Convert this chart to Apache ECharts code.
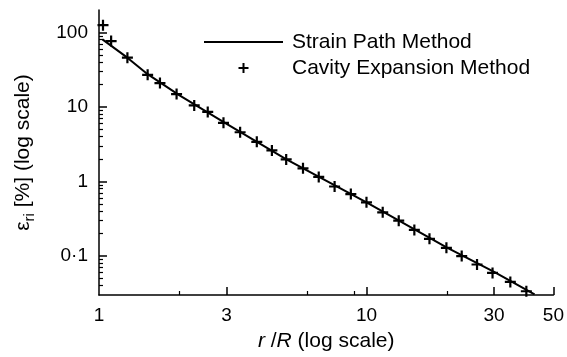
<!DOCTYPE html>
<html><head><meta charset="utf-8">
<script src="https://cdn.jsdelivr.net/npm/echarts@6/dist/echarts.min.js"></script>
<style>html,body{margin:0;padding:0;background:#fff}#c{width:567px;height:357px}</style>
</head><body><div id="c"></div>
<script>
// Strain Path Method (solid line)
const lineX = [1.03, 1.28, 1.5, 2, 3, 5, 10, 20, 30, 42.5];
const lineY = [80.7, 45.5, 28.5, 14.3, 5.95, 2.0, 0.525, 0.13, 0.0615, 0.0305];
// Cavity Expansion Method (+ markers)
const markX = [1.035, 1.11, 1.277, 1.52, 1.69, 1.95, 2.27, 2.55, 2.92, 3.37, 3.89, 4.43, 5.01, 5.79, 6.63, 7.6, 8.74, 10.0, 11.5, 13.2, 15.1, 17.2, 19.9, 22.7, 25.9, 29.6, 34.5, 39.6];
const markY = [125, 76.5, 45.8, 27, 20.9, 14.9, 10.5, 8.58, 6.12, 4.58, 3.41, 2.61, 1.98, 1.50, 1.15, 0.857, 0.678, 0.525, 0.386, 0.298, 0.224, 0.170, 0.129, 0.100, 0.077, 0.0593, 0.045, 0.0337];
// ticks
const xLabelValues = [1, 3, 10, 30, 50];
const xLabelTexts = ['1', '3', '10', '30', '50'];
const xMajorTicks = [3, 10, 30, 50];
const xMinorTicks = [2, 6, 9, 20];
const yLabelValues = [0.1, 1, 10, 100];
const yLabelTexts = ['0·1', '1', '10', '100'];
const yMajorTicks = [0.1, 1, 10, 100];
const yMinorTicks = [0.04,0.05,0.06,0.07,0.08,0.09,0.2,0.3,0.4,0.5,0.6,0.7,0.8,0.9,2,3,4,5,6,7,8,9,20,30,40,50,60,70,80,90];
const seriesNames = ['Strain Path Method', 'Cavity Expansion Method'];

const FONT = 'Liberation Sans, Arial, Helvetica, sans-serif';
function lookup(vals, texts) {
  return function (v) {
    for (let i = 0; i < vals.length; i++) if (Math.abs(v - vals[i]) < 1e-6 * vals[i]) return texts[i];
    return '';
  };
}
const X_MIN = 1, X_MAX = 50, Y_MIN = 0.03, Y_MAX = 200;
const chart = echarts.init(document.getElementById('c'), null, {renderer: 'canvas'});
const axisLine = {show: true, lineStyle: {color: '#000', width: 1.5}};
chart.setOption({
  animation: false,
  backgroundColor: '#fff',
  textStyle: {fontFamily: FONT},
  grid: {left: 99, right: 12, top: 10, bottom: 60.5, containLabel: false},
  legend: {
    orient: 'vertical', left: 203, top: 31, padding: 0,
    itemWidth: 79, itemHeight: 10, itemGap: 4,
    textStyle: {fontSize: 21, color: '#000', fontFamily: FONT, lineHeight: 22, padding: [0, 0, 0, 4]},
    data: [
      {name: seriesNames[0], itemStyle: {opacity: 0, color: 'rgba(0,0,0,0)', borderWidth: 0}},
      {name: seriesNames[1], itemStyle: {opacity: 1, color: '#000'}}
    ]
  },
  xAxis: [{
    type: 'log', min: X_MIN, max: X_MAX, position: 'bottom',
    axisLine: axisLine,
    axisTick: {show: true, inside: true, length: 8, lineStyle: {color: '#000', width: 1.5}, customValues: xMajorTicks},
    axisLabel: {show: true, margin: 11, fontSize: 19, color: '#000', fontFamily: FONT, customValues: xLabelValues, formatter: lookup(xLabelValues, xLabelTexts)},
    splitLine: {show: false}, minorTick: {show: false}, minorSplitLine: {show: false},
    name: '{i|r} /{i|R} (log scale)', nameLocation: 'middle', nameGap: 36,
    nameTextStyle: {fontSize: 21, color: '#000', fontFamily: FONT, rich: {i: {fontStyle: 'italic', fontSize: 21, fontFamily: FONT, color: '#000'}}}
  }, {
    type: 'log', min: X_MIN, max: X_MAX, position: 'bottom',
    axisLine: {show: false},
    axisTick: {show: true, inside: true, length: 4, lineStyle: {color: '#000', width: 1.2}, customValues: xMinorTicks},
    axisLabel: {show: false}, splitLine: {show: false}
  }],
  yAxis: [{
    type: 'log', min: Y_MIN, max: Y_MAX, position: 'left',
    axisLine: axisLine,
    axisTick: {show: true, inside: true, length: 8, lineStyle: {color: '#000', width: 1.5}, customValues: yMajorTicks},
    axisLabel: {show: true, margin: 11, fontSize: 19, color: '#000', fontFamily: FONT, customValues: yLabelValues, formatter: lookup(yLabelValues, yLabelTexts)},
    splitLine: {show: false}, minorTick: {show: false},
    name: '{e|ε}{s|ri}{n| [%] (log scale)}', nameLocation: 'middle', nameRotate: 90, nameGap: 62,
    nameTextStyle: {fontSize: 21, color: '#000', fontFamily: FONT, rich: {
      e: {fontSize: 21, fontFamily: FONT, color: '#000'},
      s: {fontSize: 15, fontFamily: FONT, color: '#000', padding: [12, 0, 0, 0]},
      n: {fontSize: 21, fontFamily: FONT, color: '#000'}
    }}
  }, {
    type: 'log', min: Y_MIN, max: Y_MAX, position: 'left',
    axisLine: {show: false},
    axisTick: {show: true, inside: true, length: 4, lineStyle: {color: '#000', width: 1.2}, customValues: yMinorTicks},
    axisLabel: {show: false}, splitLine: {show: false}
  }],
  series: [{
    name: seriesNames[0], type: 'line', xAxisIndex: 0, yAxisIndex: 0,
    data: lineX.map((x, i) => [x, lineY[i]]),
    symbol: 'none', showSymbol: false,
    lineStyle: {color: '#000', width: 2},
    itemStyle: {color: '#000'}
  }, {
    name: seriesNames[1], type: 'scatter', xAxisIndex: 0, yAxisIndex: 0,
    data: markX.map((x, i) => [x, markY[i]]),
    symbol: 'path://M4.4,0H6.6V4.4H11V6.6H6.6V11H4.4V6.6H0V4.4H4.4Z', symbolSize: 11,
    itemStyle: {color: '#000', opacity: 1}
  }]
});
</script></body></html>
